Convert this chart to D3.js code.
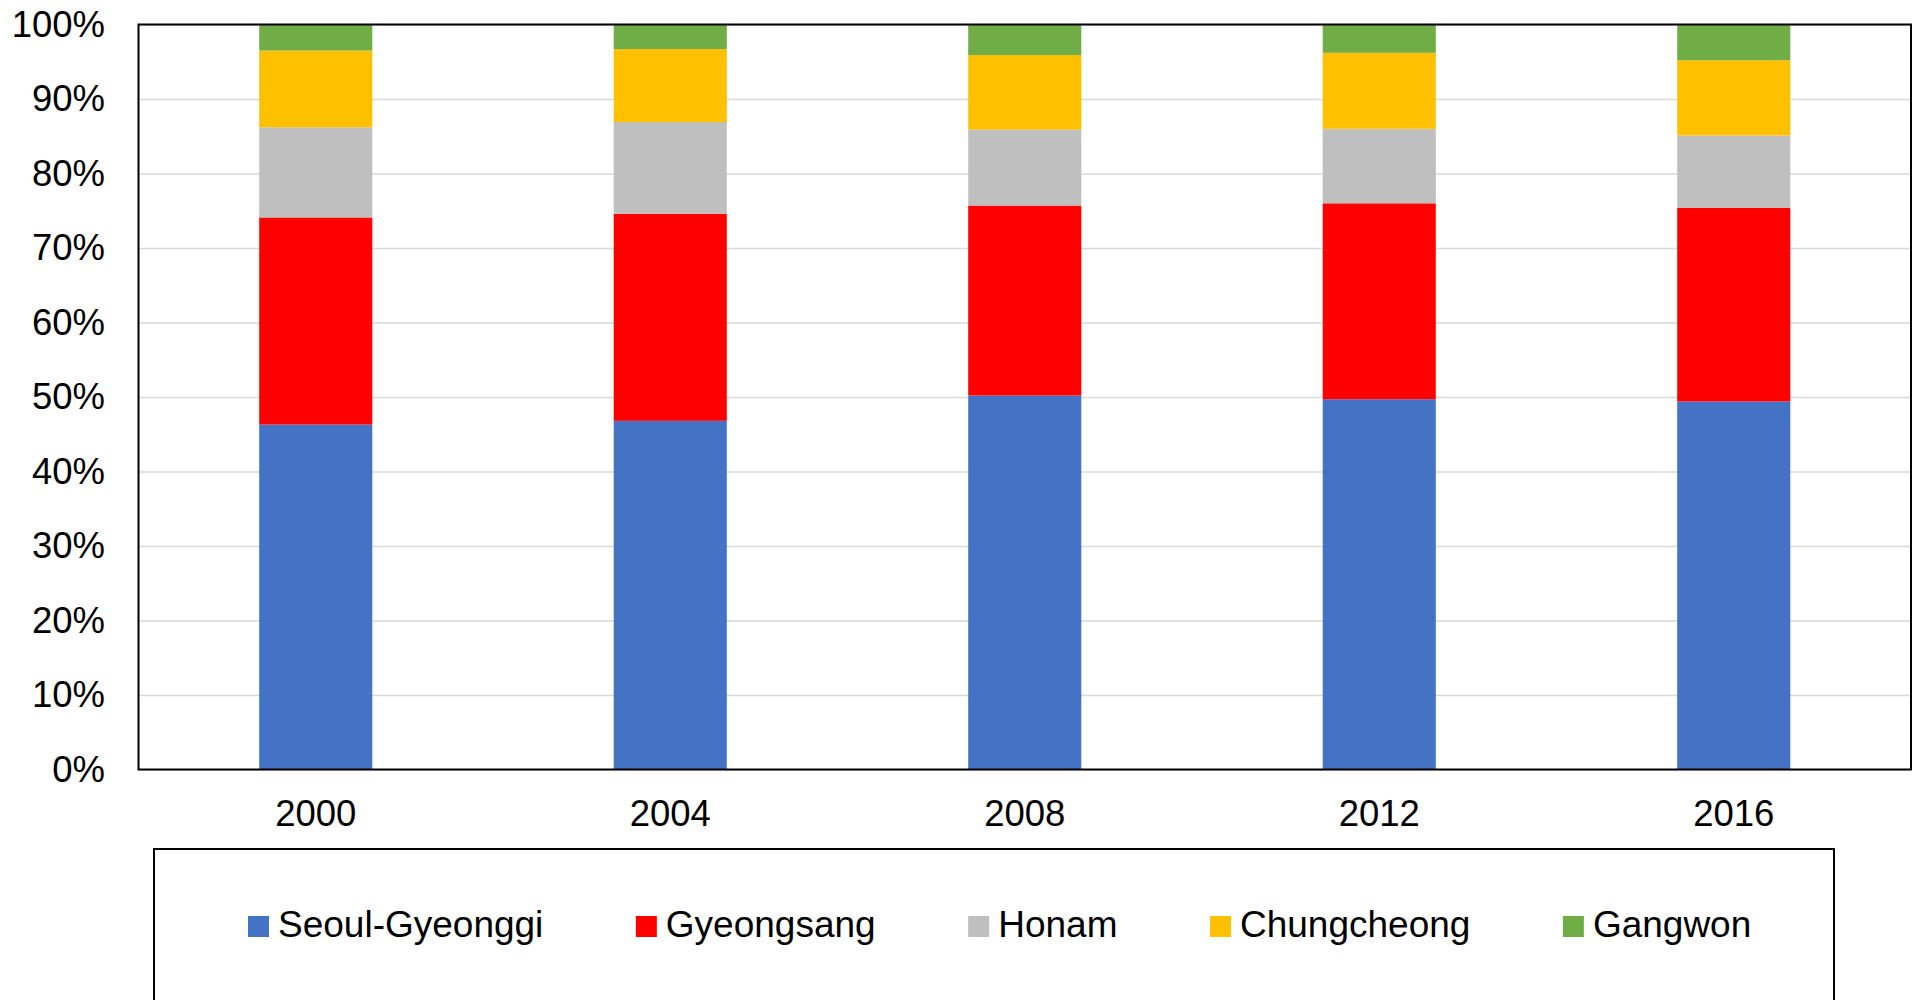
<!DOCTYPE html>
<html lang="en">

<head>
    <meta charset="UTF-8">
    <script src="https://d3js.org/d3.v7.min.js"></script>
    <title>Regional share</title>
    <style>
        body { margin: 0; background: #fff; }
        text { font-family: "Liberation Sans", Arial, sans-serif; fill: #000; }
    </style>
</head>

<body>
    <div id="app"></div>
    <script>
        const svg_width = 1914;
        const svg_height = 1000;

        // data (percent of total)
        const years = ['2000', '2004', '2008', '2012', '2016'];
        const regions = ['Seoul-Gyeonggi', 'Gyeongsang', 'Honam', 'Chungcheong', 'Gangwon'];
        const seoul = [46.3, 46.8, 50.2, 49.7, 49.4];
        const gyeongsang = [27.8, 27.8, 25.5, 26.3, 26.0];
        const honam = [12.1, 12.3, 10.2, 10.0, 9.7];
        const chungcheong = [10.3, 9.8, 10.0, 10.2, 10.1];
        const gangwon = [3.5, 3.3, 4.1, 3.8, 4.8];
        const y_ticks = [0, 10, 20, 30, 40, 50, 60, 70, 80, 90, 100];
        const colors = ['#4472C4', '#FF0000', '#BFBFBF', '#FFC000', '#70AD47'];

        const series_values = [seoul, gyeongsang, honam, chungcheong, gangwon];
        const rows = years.map(function (y, i) {
            const row = { year: y };
            regions.forEach(function (r, j) { row[r] = series_values[j][i]; });
            return row;
        });

        const plot = { left: 138.5, top: 24.5, right: 1911, bottom: 769.5 };

        const svg = d3.select('#app')
            .append('svg')
            .attr('width', svg_width)
            .attr('height', svg_height);

        const x_scale = d3.scaleBand()
            .domain(years)
            .range([plot.left, plot.right])
            .paddingInner(0.681)
            .paddingOuter(0.3405);

        const y_scale = d3.scaleLinear()
            .domain([0, 100])
            .range([plot.bottom, plot.top]);

        // gridlines
        svg.append('g')
            .attr('transform', 'translate(' + plot.left + ',0)')
            .call(d3.axisLeft(y_scale).tickValues(y_ticks).tickSize(-(plot.right - plot.left)).tickFormat(''))
            .call(function (g) { g.select('.domain').remove(); })
            .selectAll('line')
            .attr('stroke', '#d9d9d9')
            .attr('stroke-width', 1.5);

        // stacked bars
        const stacked = d3.stack().keys(regions)(rows);
        svg.append('g')
            .selectAll('g')
            .data(stacked)
            .enter()
            .append('g')
            .attr('fill', function (d, i) { return colors[i]; })
            .selectAll('rect')
            .data(function (d) { return d; })
            .enter()
            .append('rect')
            .attr('x', function (d) { return x_scale(d.data.year); })
            .attr('y', function (d) { return y_scale(d[1]); })
            .attr('width', x_scale.bandwidth())
            .attr('height', function (d) { return y_scale(d[0]) - y_scale(d[1]); });

        // plot frame
        svg.append('rect')
            .attr('x', plot.left)
            .attr('y', plot.top)
            .attr('width', plot.right - plot.left)
            .attr('height', plot.bottom - plot.top)
            .attr('fill', 'none')
            .attr('stroke', '#000')
            .attr('stroke-width', 2);

        // y axis labels
        svg.append('g')
            .attr('transform', 'translate(' + plot.left + ',0)')
            .call(d3.axisLeft(y_scale).tickValues(y_ticks).tickSize(0).tickPadding(33.5)
                .tickFormat(function (d) { return d + '%'; }))
            .call(function (g) { g.select('.domain').remove(); })
            .selectAll('text')
            .style('font-family', '"Liberation Sans", Arial, sans-serif')
            .style('font-size', '36.5px')
            .attr('fill', '#000');

        // x axis labels
        svg.append('g')
            .attr('transform', 'translate(0,' + plot.bottom + ')')
            .call(d3.axisBottom(x_scale).tickSize(0).tickPadding(31))
            .call(function (g) { g.select('.domain').remove(); })
            .selectAll('text')
            .style('font-family', '"Liberation Sans", Arial, sans-serif')
            .style('font-size', '36.5px')
            .attr('fill', '#000');

        // legend box
        svg.append('rect')
            .attr('x', 154)
            .attr('y', 849)
            .attr('width', 1834 - 154)
            .attr('height', 200)
            .attr('fill', 'none')
            .attr('stroke', '#000')
            .attr('stroke-width', 2);

        const legend = svg.append('g');
        let cursor = 248;
        regions.forEach(function (r, i) {
            legend.append('rect')
                .attr('x', cursor)
                .attr('y', 916)
                .attr('width', 21)
                .attr('height', 21)
                .attr('fill', colors[i]);
            const t = legend.append('text')
                .attr('x', cursor + 30)
                .attr('y', 937)
                .style('font-size', '37px')
                .text(r);
            cursor = cursor + 30 + t.node().getComputedTextLength() + 92.5;
        });
    </script>
</body>

</html>
